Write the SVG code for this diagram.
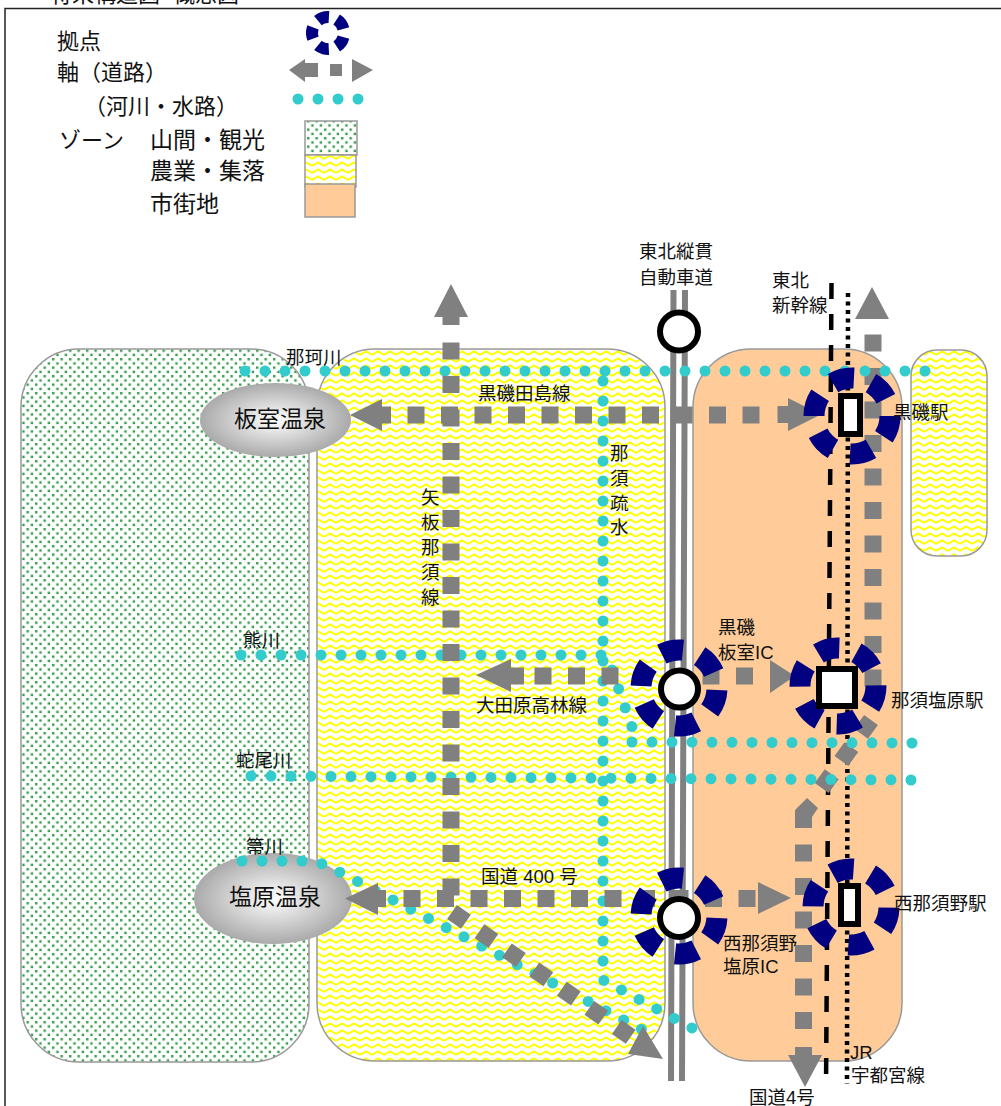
<svg xmlns="http://www.w3.org/2000/svg" width="1001" height="1106" viewBox="0 0 1001 1106">
<style>
text{font-family:"Liberation Sans","Noto Sans CJK JP",sans-serif;fill:#111}
.s{font-size:18.5px}.l{font-size:22px}.m{font-size:23px}.o{font-size:23px}
.zone{stroke:#999;stroke-width:1.5}
.road{fill:none;stroke:#808080;stroke-width:17;stroke-dasharray:17 16.5}
.head{fill:#808080}
.water{fill:none;stroke:#33cccc;stroke-width:11;stroke-linecap:round;stroke-dasharray:0 20}
.ring{fill:none;stroke:#000080;stroke-width:21;stroke-dasharray:33 27}
.st{fill:#fff;stroke:#000;stroke-width:6}
.ic{fill:#fff;stroke:#000;stroke-width:6}
</style>
<defs>
<pattern id="dots" width="8.500" height="8.500" patternUnits="userSpaceOnUse"><rect width="8.500" height="8.500" fill="#fff"/><rect x="1" y="1" width="2.400" height="2.400" fill="#2f9a48"/><rect x="5.250" y="5.250" width="2.400" height="2.400" fill="#2f9a48"/></pattern>
<pattern id="zig" width="12" height="7" patternUnits="userSpaceOnUse"><rect width="12" height="7" fill="#fff"/><path d="M0 5 L6 1.500 L12 5" fill="none" stroke="#ffff00" stroke-width="2"/></pattern>
<radialGradient id="onsen"><stop offset="0" stop-color="#fff"/><stop offset="1" stop-color="#aaa"/></radialGradient>
</defs>
<path d="M5 1106V8.500H1001" fill="none" stroke="#222" stroke-width="1.500"/>
<text class="l" x="50" y="1.500">将来構造図<tspan dx="13">概念図</tspan></text>

<g id="zones">
<rect class="zone" x="21" y="349" width="288" height="713" rx="58" fill="url(#dots)"/>
<rect class="zone" x="317" y="349" width="348" height="712" rx="58" fill="url(#zig)"/>
<rect class="zone" x="693" y="349" width="209" height="712" rx="58" fill="#ffcc99"/>
<rect class="zone" x="911" y="350" width="76" height="206" rx="26" fill="url(#zig)"/>
</g>

<g id="itamuro-onsen"><ellipse cx="275.500" cy="420" rx="75.500" ry="37" fill="url(#onsen)"/><text class="o" x="234" y="427">板室温泉</text></g>
<g id="shiobara-onsen"><ellipse cx="273" cy="898.500" rx="79" ry="45.500" fill="url(#onsen)"/><text class="o" x="229" y="905">塩原温泉</text></g>

<g id="connectors">
<path d="M673.500 290L671 1081M685 290L682 1081" fill="none" stroke="#808080" stroke-width="6"/>
<path d="M831.500 283L826 1088" fill="none" stroke="#000" stroke-width="4.500" stroke-dasharray="16 15"/>
<path d="M848 293L847 1084" fill="none" stroke="#000" stroke-width="4.500" stroke-dasharray="4 4.500"/>
<g id="roads-east">
<polygon class="head" points="872,287 889,319 855,319"/>
<path class="road" d="M873 334.500V688"/>
<path class="road" d="M871 720L821 789"/>
<polygon class="head" points="795,810 807,798 818,808 812,817 812,828 795,828"/>
<path class="road" d="M803.500 844.500V1030"/>
<rect class="head" x="795" y="1047" width="17" height="10"/>
<polygon class="head" points="805,1087 788,1055 822,1055"/>
</g>
<g id="water">
<path class="water" d="M245 371H926"/>
<path class="water" d="M603 381V980L692 1028"/>
<path class="water" d="M241 655H605"/>
<path class="water" d="M612 670L632 727"/>
<path class="water" d="M632 742L913 743"/>
<path class="water" d="M251 776L912 780"/>
<path class="water" d="M242 861H302L324 864L643 1030"/>
</g>
<g id="roads">
<rect class="head" x="442.500" y="315" width="17" height="10"/>
<polygon class="head" points="451,284 468,317 434,317"/>
<path class="road" d="M451 342.500V896"/>
<rect class="head" x="380" y="406.500" width="11" height="17"/>
<polygon class="head" points="350,415 382,399 382,431"/>
<path class="road" d="M407.500 415H761"/>
<rect class="head" x="777.500" y="406" width="12" height="17"/>
<polygon class="head" points="821,414.500 788,398 788,431"/>
<rect class="head" x="376" y="890" width="10" height="17"/>
<polygon class="head" points="345,898.500 378,883 378,915"/>
<path class="road" d="M403.500 898.500H756"/>
<polygon class="head" points="791,898 758,882 758,914"/>
<path class="road" d="M452 912L631 1037"/>
<polygon class="head" points="663,1059 628,1054 643,1026"/>
<rect class="head" x="510" y="667.500" width="14" height="17"/>
<polygon class="head" points="476,675 511,659 511,692"/>
<path class="road" d="M534.500 676H652"/>
<path class="road" d="M702.500 676H753"/>
<polygon class="head" points="795,676 770,660 770,693"/>
</g>
</g>

<g id="kuroiso-st"><circle class="ring" cx="852" cy="416" r="38" pathLength="360" transform="rotate(0 852 416)"/><rect class="st" x="841" y="396" width="19" height="38"/></g>
<g id="nasushiobara-st"><circle class="ring" cx="838" cy="686" r="38" pathLength="360" transform="rotate(-1 838 686)"/><rect class="st" x="819" y="669" width="36" height="37"/></g>
<g id="nishinasuno-st"><circle class="ring" cx="851" cy="907" r="38" pathLength="360" transform="rotate(1 851 907)"/><rect class="st" x="841" y="886" width="17" height="38"/></g>
<g id="kuroiso-ic"><circle class="ring" cx="679" cy="688" r="38" pathLength="360" transform="rotate(3 679 688)"/><circle class="ic" cx="679.500" cy="689" r="18.500"/></g>
<g id="nishinasuno-ic"><circle class="ring" cx="679" cy="916" r="38" pathLength="360" transform="rotate(3 679 916)"/><circle class="ic" cx="679" cy="918" r="19"/></g>
<g id="tohoku-ic"><circle class="ic" cx="679" cy="331.500" r="19"/></g>

<g id="labels">
<text class="s" x="639" y="258">東北縦貫</text><text class="s" x="639" y="284">自動車道</text>
<text class="s" x="772" y="287">東北</text><text class="s" x="772" y="312">新幹線</text>
<text class="s" x="286" y="364">那珂川</text>
<text class="s" x="478" y="400">黒磯田島線</text>
<text class="s" x="893" y="419">黒磯駅</text>
<text class="s" x="610" y="460">那</text><text class="s" x="610" y="485">須</text><text class="s" x="610" y="510">疏</text><text class="s" x="610" y="534">水</text>
<text class="s" x="421" y="504">矢</text><text class="s" x="421" y="529">板</text><text class="s" x="421" y="554">那</text><text class="s" x="421" y="579">須</text><text class="s" x="421" y="604">線</text>
<text class="s" x="718" y="634">黒磯</text><text class="s" x="718" y="659">板室IC</text>
<text class="s" x="243" y="647">熊川</text>
<text class="s" x="476" y="712">大田原高林線</text>
<text class="s" x="891" y="707">那須塩原駅</text>
<text class="s" x="236" y="767">蛇尾川</text>
<text class="s" x="246" y="853">箒川</text>
<text class="s" x="481" y="883">国道 400 号</text>
<text class="s" x="894" y="910">西那須野駅</text>
<text class="s" x="723" y="950">西那須野</text><text class="s" x="723" y="973">塩原IC</text>
<text class="s" x="850" y="1059">JR</text><text class="s" x="851" y="1082">宇都宮線</text>
<text class="s" x="749" y="1104">国道4号</text>
</g>

<g id="legend">
<text class="l" x="57" y="49">拠点</text>
<text class="l" x="57" y="80">軸（道路）</text>
<text class="l" x="84" y="114">（河川・水路）</text>
<text class="l" x="59" y="148">ゾーン</text>
<text class="m" x="150" y="148">山間・観光</text>
<text class="m" x="150" y="179">農業・集落</text>
<text class="m" x="150" y="212">市街地</text>
<circle class="ring" cx="328" cy="33" r="16" pathLength="360" style="stroke-width:12;stroke-dasharray:42 30" transform="rotate(15 328 33)"/>
<polygon class="head" points="289,70 305,59 305,63 318,63 318,77 305,77 305,82"/><rect class="head" x="330" y="64" width="12" height="12"/><polygon class="head" points="373,70 352,59 352,82"/>
<path class="water" d="M298 99H361"/>
<rect class="zone" x="305" y="121" width="52" height="34" fill="url(#dots)"/>
<rect class="zone" x="305" y="155" width="51" height="32" fill="url(#zig)"/>
<rect class="zone" x="305" y="184" width="50" height="33" fill="#ffcc99"/>
</g>
</svg>
